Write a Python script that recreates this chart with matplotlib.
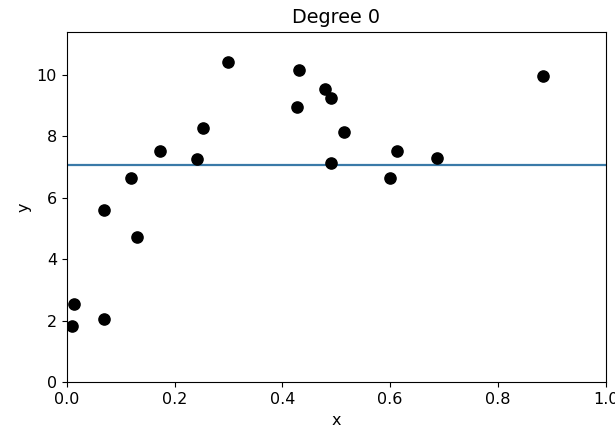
import numpy as np
import matplotlib
matplotlib.use("Agg")
import matplotlib.pyplot as plt

# data points
x = [0.0104, 0.0136, 0.0688, 0.0688, 0.1195, 0.1307, 0.1734, 0.2422, 0.2533, 0.2985,
     0.4268, 0.4305, 0.4800, 0.4907, 0.4907, 0.5140, 0.5997, 0.6127, 0.6877, 0.8830]
y = [1.82, 2.56, 2.05, 5.61, 6.64, 4.71, 7.53, 7.27, 8.28, 10.41,
     8.95, 10.15, 9.54, 9.26, 7.12, 8.13, 6.64, 7.53, 7.29, 9.95]
degree = 0

plt.rcParams["font.size"] = 11.5

# polynomial fit of degree 0 -> flat line at the mean
coefs = np.polyfit(x, y, degree)
x_line = np.linspace(0, 1, 100)
y_line = np.polyval(coefs, x_line)

fig = plt.figure(figsize=(6.15, 4.32), dpi=100)
ax = fig.add_axes([0.1085, 0.115, 0.8765, 0.8116])
ax.scatter(x, y, color="black", s=65, zorder=3)
ax.plot(x_line, y_line, color="#3a7aa8", linewidth=1.6)
ax.set_xlim(0, 1)
ax.set_ylim(0, 11.4)
ax.set_xlabel("x")
ax.set_ylabel("y")
ax.set_title(f"Degree {degree}")

plt.savefig("out.png", dpi=100)
